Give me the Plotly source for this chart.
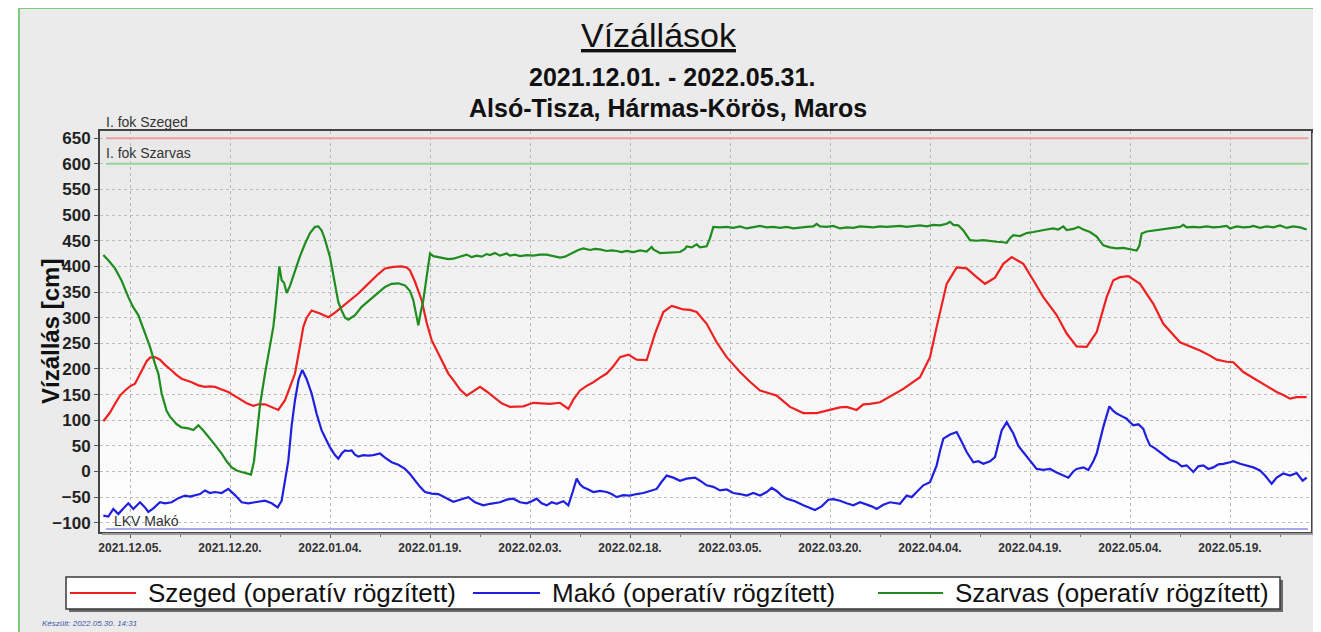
import pandas as pd
import plotly.graph_objects as go

# ---------------- data (day offsets from 2021-12-01, water levels in cm) ----------------
BASE_DATE = "2021-12-01"

szeged_days = [0, 1, 1.75, 2.5, 3.25, 4, 4.75, 5.75, 6.5, 7, 7.75, 8.5, 9.25, 10.25, 11, 11.75, 12.5, 13.25, 14.25, 15.25,
               16, 16.75, 17.75, 18.75, 19.75, 20.75, 21.5, 22.5, 23.25, 24.25, 25.25, 26.25, 27.25, 28, 28.75, 29.5, 30,
               30.5, 31.25, 32.5, 33.75, 34.75, 35.75, 37, 38.25, 39.25, 40.25, 41.25, 42.25, 43.5, 44.75, 45.5, 46,
               46.75, 47.75, 48.5, 49.25, 50.5, 51.75, 52.5, 53.5, 54.5, 55.5, 56.5, 57.5, 58.5, 59.75, 61, 62, 63, 64.5,
               65.75, 67, 68.5, 69.75, 70.5, 71.5, 72.5, 73.5, 74.5, 75.5, 76.5, 77.5, 78.75, 80, 81.5, 82.75, 84, 85.25,
               86, 87, 88, 89, 90.5, 92, 93.5, 95.5, 97, 98.5, 100, 101, 103, 105, 107, 109, 110.5, 111.5, 113, 114, 115,
               116.5, 117.5, 120, 122.5, 124, 125, 126.5, 128, 129.5, 131, 132.25, 133.75, 135, 136.25, 138, 139.5, 141,
               143, 144.5, 146, 147.5, 149, 150.5, 151.5, 152.5, 153.75, 155.5, 157.5, 159, 161.5, 163, 164.5, 166, 167,
               168.5, 169.5, 171, 172, 173.5, 175, 176, 177, 178, 179, 180.5]
szeged_vals = [98, 115, 132, 148, 158, 166, 171, 197, 215, 222, 223, 218, 208, 197, 188, 181, 178, 174, 168, 165,
               166, 165, 160, 155, 147, 139, 133, 128, 131, 131, 125, 120, 139, 165, 191, 245, 282,
               300, 314, 308, 301, 310, 321, 333, 347, 360, 373, 385, 396, 399, 400, 398, 392,
               370, 334, 290, 256, 225, 191, 178, 160, 148, 156, 165, 156, 145, 133, 126, 126, 127, 134,
               133, 132, 134, 122, 140, 158, 167, 174, 183, 191, 205, 223, 228, 218, 217, 269, 311, 323,
               320, 316, 315, 311, 288, 252, 223, 194, 175, 158, 152, 148, 126, 114, 114, 121, 125, 126, 120, 131, 132,
               135, 142, 161, 184, 223, 282, 366, 398, 396, 379, 366, 378, 405, 418, 405, 373, 340,
               305, 269, 244, 243, 272, 340, 373, 379, 381, 366, 327, 288, 252, 244, 236, 226, 218,
               214, 213, 194, 186, 174, 163, 155, 149, 142, 145, 145]

mako_days = [0, 0.75, 1.5, 2.25, 3, 3.75, 4.5, 5.5, 6.25, 6.75, 7.5, 8.5, 9.25, 10.25, 11.25, 12.25, 13, 13.75, 14.5,
             15.25, 16, 16.75, 17.75, 18.75, 19.75, 20.75, 21.75, 22.75, 23.5, 24.25, 25.25, 26.15, 26.75, 27.25, 27.75,
             28.25, 28.75, 29.3, 29.85, 30.5, 31.25, 32, 32.75, 33.5, 34, 34.75, 35.25, 35.75, 36.25, 36.75, 37.25,
             37.75, 38.25, 39, 39.75, 40.5, 41.5, 42.25, 43.25, 44.25, 45.25, 46, 46.75, 47.5, 48.25, 49.25, 50.25,
             51.25, 52.5, 53.5, 54.75, 55.75, 57, 58, 59.5, 60.5, 61.5, 62.5, 63.5, 64.25, 65, 65.75, 66.5, 67.25, 68,
             69, 69.75, 70.4, 71, 71.5, 72, 72.75, 73.5, 74.5, 75.5, 76.25, 77, 78, 79, 80, 81, 82, 83, 83.75, 84.5,
             85.5, 86.5, 87.5, 88.75, 89.5, 90.5, 91.5, 92.5, 93.5, 94.5, 95.5, 96.5, 97.5, 98.5, 99.5, 100.25, 101,
             101.75, 102.5, 103.75, 105, 105.75, 106.75, 107.75, 108.75, 109.5, 110.5, 111.5, 112.5, 113.5, 114.5,
             115.25, 116, 117, 118, 118.75, 119.5, 120.5, 121.25, 122, 123, 124, 124.5, 125, 125.5, 126, 127, 128,
             128.75, 129.5, 130.5, 131.25, 132, 133, 133.75, 134.25, 134.75, 135.5, 136.5, 137.25, 138, 139, 140, 141,
             142, 143, 143.5, 144.75, 145.5, 146, 147, 147.75, 148.5, 149, 150, 150.9, 151.5, 152, 152.75, 153.5, 154,
             154.5, 155.25, 156, 156.5, 157, 157.75, 158.5, 159.25, 160, 161, 161.75, 162.5, 163.5, 164.25, 165,
             165.75, 166.5, 167.25, 168, 169, 169.5, 170.5, 171.5, 172.5, 173.5, 174.25, 175.25, 176, 177, 178, 179,
             179.9, 180.5]
mako_vals = [-86, -88, -73, -83, -72, -62, -73, -60, -70, -79, -72, -60, -62, -60, -52, -47, -49, -47, -44,
             -37, -42, -40, -42, -34, -46, -60, -62, -60, -58, -57, -62, -70, -57, -20, 21,
             90, 139, 180, 198, 180, 152, 112, 80, 60, 47, 32, 25, 35, 41, 40, 41,
             33, 29, 32, 31, 32, 35, 27, 18, 13, 5, -5, -18, -30, -40, -43, -44,
             -50, -59, -55, -50, -60, -66, -63, -60, -55, -53, -60, -62, -58, -53, -62, -66, -60, -63,
             -58, -66, -40, -14, -25, -31, -35, -40, -38, -40, -44, -50, -46, -47, -44, -42, -38, -34, -20, -8,
             -12, -18, -14, -12, -18, -27, -30, -37, -35, -42, -44, -47, -42, -47, -40, -32, -38,
             -47, -53, -58, -66, -70, -75, -68, -55, -54, -57, -62, -66, -60, -64,
             -68, -73, -65, -60, -62, -63, -47, -50, -40, -27, -21, -5, 12, 40, 64, 72, 77,
             58, 38, 18, 20, 15, 20, 28, 55, 80, 96, 74, 50, 38, 20, 5, 3,
             5, -2, -5, -12, 0, 5, 8, 3, 20, 35, 87, 127, 118, 113, 108, 103, 96,
             90, 92, 83, 65, 51, 45, 38, 30, 23, 18, 10, 12, -1, 10, 12,
             5, 8, 14, 15, 18, 20, 15, 12, 8, 2, -8, -24, -12, -4, -8, -3,
             -18, -12]

szarvas_days = [0, 0.75, 1.75, 2.75, 3.75, 4.5, 5.25, 6.25, 7, 7.75, 8.25, 8.75, 9.5, 10, 11, 11.75, 12.75, 13.5, 14.25,
                15, 15.75, 16.75, 17.75, 18.5, 19.25, 20, 20.75, 21.5, 22.15, 22.6, 23, 23.5, 24.25, 25, 25.5, 25.9,
                26.15, 26.4, 26.6, 26.75, 27.1, 27.5, 28, 28.75, 29.5, 30.25, 31, 31.75, 32.25, 32.75, 33.25, 34, 34.75,
                35.25, 35.75, 36.25, 36.75, 37.75, 38.75, 40, 41.25, 42.25, 43.25, 44.25, 45.25, 46, 46.5, 47, 47.25,
                47.6, 48, 48.5, 49, 49.5, 50.25, 51, 51.75, 52.5, 53.25, 54, 54.5, 55.25, 56, 56.75, 57.5, 58, 58.75,
                59.5, 60.5, 61, 61.75, 62.5, 63.5, 64.5, 65.5, 66.5, 67.5, 68.5, 69.25, 70.5, 71.25, 72, 73, 73.75,
                74.5, 75.5, 76.25, 77, 77.75, 78.5, 79.5, 80.5, 81.5, 82.25, 82.5, 83.5, 84.5, 85.5, 86.5, 87.25, 87.5,
                88.25, 89, 89.5, 90.5, 91, 91.5, 92.5, 93.5, 94.5, 95.5, 96.5, 97.5, 98.5, 99.5, 100.5, 101.5, 102.5,
                103.5, 104.5, 105.5, 106.5, 107, 107.5, 108.5, 109.5, 110.5, 111.5, 112.5, 113.5, 114.5, 115.5, 116.5,
                117.5, 118.5, 119.5, 120.5, 121.5, 122.5, 123.5, 124.5, 125.5, 126.5, 127, 127.5, 128.25, 129, 130,
                131, 132, 133, 134, 135, 135.5, 136, 136.5, 137.5, 138.5, 139.5, 140.5, 141.5, 142.5, 143.25, 144,
                144.5, 145.5, 146.25, 147, 148, 149, 150, 151, 152, 153, 154, 155, 155.4, 155.75, 156.5, 157.5, 158.5,
                159.5, 160.5, 161.5, 162, 162.5, 163.5, 164.5, 165.5, 166.5, 167.5, 168.5, 169, 170, 171, 172, 172.5,
                173.5, 174.5, 175.5, 176.5, 177.5, 178.5, 179.5, 180.5]
szarvas_vals = [422, 412, 396, 372, 340, 320, 305, 270, 243, 210, 191, 152, 118, 107, 92, 86, 84, 81, 90,
                80, 67, 52, 35, 20, 8, 2, -1, -3, -6, 20, 74, 130, 191, 250, 282, 330,
                360, 400, 385, 373, 368, 348, 362, 392, 420, 444, 465, 477, 478, 470, 452, 418, 365,
                330, 314, 300, 296, 305, 321, 335, 350, 360, 366, 367, 363, 352, 334, 300, 285,
                310, 334, 380, 425, 420, 418, 416, 414, 415, 418, 420, 423, 418, 421, 419, 424, 422, 426,
                421, 425, 421, 423, 420, 422, 421, 423, 423, 420, 417, 419, 428, 432, 435, 432, 434,
                433, 430, 431, 430, 428, 430, 428, 431, 429, 438, 433, 426, 427, 428, 428, 434, 439,
                437, 443, 437, 439, 455, 477, 476, 477, 475, 478, 474, 476, 479, 476, 477, 475, 477,
                474, 476, 477, 478, 483, 478, 477, 479, 474, 476, 475, 478, 477, 476, 478,
                477, 478, 479, 477, 479, 480, 478, 481, 480, 483, 487, 481, 480, 470, 451,
                450, 451, 449, 448, 447, 446, 455, 461, 459, 465, 467, 470, 472, 474, 472, 478,
                471, 473, 477, 472, 467, 458, 441, 437, 435, 436, 433, 431, 440, 464, 468, 470, 472,
                474, 475, 477, 481, 476, 477, 476, 478, 476, 477, 479, 474, 478, 476, 477, 479,
                475, 478, 476, 480, 475, 478, 476, 472]

series_names = ["Szeged (operatív rögzített)", "Makó (operatív rögzített)", "Szarvas (operatív rögzített)"]
series_colors = ["#ee2020", "#1f1fe0", "#1e8c1e"]

threshold_names = ["I. fok Szeged", "I. fok Szarvas", "LKV Makó"]
threshold_vals = [650, 600, -112]
threshold_colors = ["#eaa0a0", "#96d496", "#a8a8ea"]

xtick_labels = ["2021.12.05.", "2021.12.20.", "2022.01.04.", "2022.01.19.", "2022.02.03.", "2022.02.18.",
                "2022.03.05.", "2022.03.20.", "2022.04.04.", "2022.04.19.", "2022.05.04.", "2022.05.19."]

title_text = "Vízállások"
subtitle_lines = ["2021.12.01. - 2022.05.31.", "Alsó-Tisza, Hármas-Körös, Maros"]
y_title = "Vízállás [cm]"
footer_text = "Készült: 2022.05.30. 14:31"

# ---------------- layout geometry (page pixels; the page body adds an 8px offset) ----------------
W, H = 1321, 632
OFF = 8
PL, PR, PT, PB = 100, 1311, 131, 532  # plot area edges in page pixels


def px_x(px):
    return (px - PL) / (PR - PL)


def px_y(py):
    return (PB - py) / (PB - PT)


base = pd.Timestamp(BASE_DATE)


def to_dates(days):
    return [base + pd.Timedelta(days=d) for d in days]


tickvals = [pd.Timestamp(t.rstrip(".").replace(".", "-")) for t in xtick_labels]

FONT = "Liberation Sans, Arial, sans-serif"

fig = go.Figure()

all_days = [szeged_days, mako_days, szarvas_days]
all_vals = [szeged_vals, mako_vals, szarvas_vals]
for name, color, d, v in zip(series_names, series_colors, all_days, all_vals):
    fig.add_trace(go.Scatter(x=to_dates(d), y=v, mode="lines", name=name,
                             line=dict(color=color, width=2.2), showlegend=False))

shapes = []
# white area outside the green frame (left strip)
shapes.append(dict(type="rect", xref="paper", yref="paper", x0=px_x(0), x1=px_x(19), y0=px_y(660), y1=px_y(0),
                   fillcolor="white", line=dict(width=0), layer="above"))
# green frame (top and left edges only are visible)
shapes.append(dict(type="line", xref="paper", yref="paper", x0=px_x(19), x1=px_x(1330), y0=px_y(8), y1=px_y(8),
                   line=dict(color="#7ccc7c", width=2), layer="above"))
shapes.append(dict(type="line", xref="paper", yref="paper", x0=px_x(19), x1=px_x(19), y0=px_y(640), y1=px_y(8),
                   line=dict(color="#7ccc7c", width=2), layer="above"))

# plot-area gradient (top grey -> bottom white)
N = 50
for i in range(N):
    t = i / (N - 1)
    c = int(round(0xe8 + (0xff - 0xe8) * t))
    shapes.append(dict(type="rect", xref="paper", yref="paper", x0=0, x1=1,
                       y0=1 - (i + 1) / N, y1=1 - i / N + 0.001,
                       fillcolor=f"rgb({c},{c},{c})", line=dict(width=0), layer="below"))

# threshold lines
for val, col in zip(threshold_vals, threshold_colors):
    shapes.append(dict(type="line", xref="paper", yref="y", x0=px_x(106), x1=px_x(1308), y0=val, y1=val,
                       line=dict(color=col, width=2), layer="above"))

# plot shadow (right / bottom)
shapes.append(dict(type="line", xref="paper", yref="paper", x0=px_x(PR + 2), x1=px_x(PR + 2), y0=px_y(PB + 2),
                   y1=px_y(PT + 2), line=dict(color="#9a9a9a", width=2), layer="above"))
shapes.append(dict(type="line", xref="paper", yref="paper", x0=px_x(PL + 2), x1=px_x(PR + 2), y0=px_y(PB + 2),
                   y1=px_y(PB + 2), line=dict(color="#9a9a9a", width=2), layer="above"))

# legend box (manual)
LB = dict(x0=66, x1=1280, y0=577, y1=609)
shapes.append(dict(type="rect", xref="paper", yref="paper", x0=px_x(LB["x0"] + 3), x1=px_x(LB["x1"] + 3),
                   y0=px_y(LB["y1"] + 3), y1=px_y(LB["y0"] + 3), fillcolor="#6a6a6a", line=dict(width=0)))
shapes.append(dict(type="rect", xref="paper", yref="paper", x0=px_x(LB["x0"]), x1=px_x(LB["x1"]),
                   y0=px_y(LB["y1"]), y1=px_y(LB["y0"]), fillcolor="white", line=dict(color="#3a3a3a", width=1.5)))
legend_line_x = [(70, 136), (473, 540), (878, 943)]
legend_text_x = [146, 550, 953]
LEG_Y = 593
for (a, b), col in zip(legend_line_x, series_colors):
    shapes.append(dict(type="line", xref="paper", yref="paper", x0=px_x(a), x1=px_x(b), y0=px_y(LEG_Y),
                       y1=px_y(LEG_Y), line=dict(color=col, width=2)))

annotations = []
for name, tx in zip(series_names, legend_text_x):
    annotations.append(dict(text=name, xref="paper", yref="paper", x=px_x(tx), y=px_y(LEG_Y), xanchor="left",
                            yanchor="middle", showarrow=False, font=dict(family=FONT, size=26, color="#111")))

# titles
annotations.append(dict(text=f"<u>{title_text}</u>", xref="paper", yref="paper", x=px_x(659), y=px_y(35),
                        xanchor="center", yanchor="middle", showarrow=False,
                        font=dict(family=FONT, size=34, color="#111")))
for line, yy, xx in zip(subtitle_lines, [77, 108], [672, 668]):
    annotations.append(dict(text=f"<b>{line}</b>", xref="paper", yref="paper", x=px_x(xx), y=px_y(yy),
                            xanchor="center", yanchor="middle", showarrow=False,
                            font=dict(family=FONT, size=25, color="#111")))

# y-axis title
annotations.append(dict(text=f"<b>{y_title}</b>", xref="paper", yref="paper", x=px_x(50), y=px_y(331),
                        xanchor="center", yanchor="middle", textangle=-90, showarrow=False,
                        font=dict(family=FONT, size=24, color="#111")))

# threshold labels
for name, (lx, ly) in zip(threshold_names, [(104, 122), (104, 153), (112, 521)]):
    annotations.append(dict(text=name, xref="paper", yref="paper", x=px_x(lx), y=px_y(ly), xanchor="left",
                            yanchor="middle", showarrow=False, font=dict(family=FONT, size=14, color="#333")))

annotations.append(dict(text=f"<i>{footer_text}</i>", xref="paper", yref="paper", x=px_x(40), y=px_y(623),
                        xanchor="left", yanchor="middle", showarrow=False,
                        font=dict(family=FONT, size=8, color="#3a56a8")))

fig.update_layout(
    width=W, height=H,
    margin=dict(l=PL - OFF, r=W - (PR - OFF), t=PT - OFF, b=H - (PB - OFF), pad=0),
    paper_bgcolor="#ebebeb",
    plot_bgcolor="rgba(0,0,0,0)",
    showlegend=False,
    shapes=shapes,
    annotations=annotations,
    font=dict(family=FONT),
)

fig.update_xaxes(
    type="date",
    range=[base + pd.Timedelta(days=-0.5), base + pd.Timedelta(days=181.15)],
    tickvals=tickvals, ticktext=xtick_labels,
    tickfont=dict(family=FONT, size=12, color="#333", weight="bold"),
    ticks="outside", ticklen=4, tickcolor="#555",
    showgrid=True, gridcolor="#b8b8b8", griddash="dot", gridwidth=1,
    showline=True, linecolor="#444", linewidth=2, mirror=True,
    zeroline=False,
    minor=dict(ticks="outside", ticklen=3, tickcolor="#777", dtick=7.5 * 86400000, tick0="2021-12-05",
               showgrid=False),
)
fig.update_yaxes(
    range=[-118, 664], dtick=50, tick0=0,
    tickfont=dict(family=FONT, size=17, color="#222", weight="bold"),
    ticks="outside", ticklen=4, tickcolor="#555",
    showgrid=True, gridcolor="#bdbdbd", griddash="dot", gridwidth=1,
    showline=True, linecolor="#444", linewidth=2, mirror=True,
    zeroline=False,
)

fig.write_html("out.html")
